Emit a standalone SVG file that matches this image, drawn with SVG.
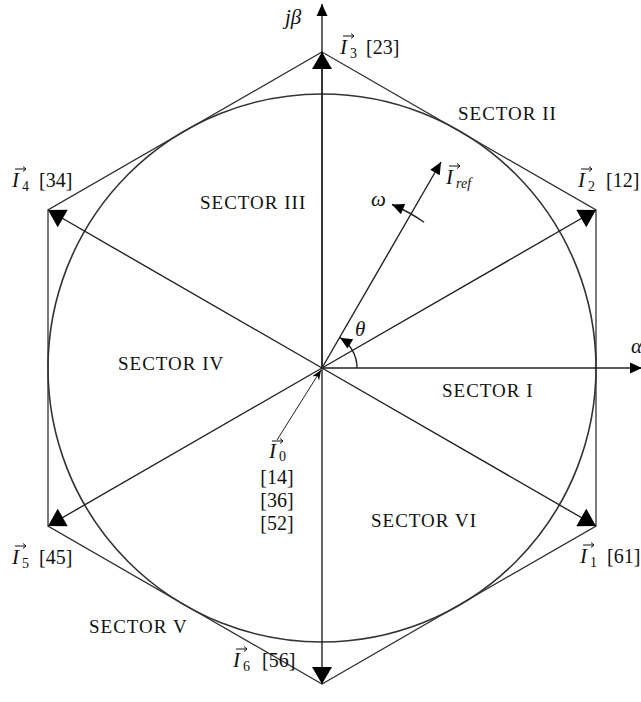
<svg xmlns="http://www.w3.org/2000/svg" width="641" height="702" viewBox="0 0 641 702">
<style>
.ln{stroke:#222;stroke-width:1.4;fill:none}
.hex{stroke:#333;stroke-width:1.3;fill:none}
.circ{stroke:#333;stroke-width:1.6;fill:none}
.sec{font-family:"Liberation Serif","DejaVu Serif",serif;font-size:19px;letter-spacing:1px;fill:#111}
.it{font-family:"Liberation Serif","DejaVu Serif",serif;font-style:italic;font-size:21px;fill:#111}
.rm{font-family:"Liberation Serif","DejaVu Serif",serif;font-size:20px;fill:#111}
.sub{font-family:"Liberation Serif","DejaVu Serif",serif;font-size:14px;fill:#111}
.subi{font-family:"Liberation Serif","DejaVu Serif",serif;font-style:italic;font-size:14px;fill:#111}
.acc{stroke:#111;stroke-width:1;fill:none}
</style>
<defs>
<marker id="big" markerUnits="userSpaceOnUse" markerWidth="20" markerHeight="22" refX="18" refY="11" orient="auto" viewBox="0 0 20 22">
<path d="M18,11 L1,1 L1,21 Z" fill="#000"/>
</marker>
<marker id="small" markerUnits="userSpaceOnUse" markerWidth="14" markerHeight="14" refX="13" refY="7" orient="auto" viewBox="0 0 14 14">
<path d="M13,7 L1,1.5 L1,12.5 Z" fill="#000"/>
</marker>
<marker id="stealth" markerUnits="userSpaceOnUse" markerWidth="12" markerHeight="10" refX="11" refY="5" orient="auto" viewBox="0 0 12 10">
<path d="M11,5 L1,1 L4,5 L1,9 Z" fill="#000"/>
</marker>
</defs>

<g id="hexagon">
<polygon class="hex" points="322,52 596,210 596,526 322,684 48,526 48,210"/>
</g>
<g id="circle">
<circle class="circ" cx="322" cy="368" r="274"/>
</g>

<g id="connectors">
<line class="ln" x1="322" y1="368" x2="322" y2="4" marker-end="url(#small)"/>
<line class="ln" x1="322" y1="368" x2="642" y2="368" marker-end="url(#small)"/>
<line class="ln" x1="322" y1="368" x2="322" y2="52" marker-end="url(#big)"/>
<line class="ln" x1="322" y1="368" x2="322" y2="684" marker-end="url(#big)"/>
<line class="ln" x1="322" y1="368" x2="596" y2="210" marker-end="url(#big)"/>
<line class="ln" x1="322" y1="368" x2="596" y2="526" marker-end="url(#big)"/>
<line class="ln" x1="322" y1="368" x2="48" y2="210" marker-end="url(#big)"/>
<line class="ln" x1="322" y1="368" x2="48" y2="526" marker-end="url(#big)"/>
<line class="ln" x1="322" y1="368" x2="441" y2="162" marker-end="url(#small)"/>
<path class="ln" d="M424.1,222.2 A178,178 0 0 0 392,204.5" marker-end="url(#small)"/>
<path class="ln" d="M357,368 A35,35 0 0 0 340,337.7" marker-end="url(#small)"/>
<line class="ln" style="stroke-width:1" x1="277" y1="440" x2="321" y2="370" marker-end="url(#stealth)"/>
</g>

<g id="axis-labels">
<text class="it" x="285" y="24">jβ</text>
<text class="it" x="631" y="353">α</text>
<text class="it" x="355" y="336">θ</text>
<text class="it" x="371" y="206">ω</text>
</g>

<g id="I3">
<path class="acc" d="M343,36 H354 M351,33.5 L354,36 L351,38.5"/>
<text class="it" x="340" y="54">I</text><text class="sub" x="350" y="58">3</text>
<text class="rm" x="366" y="54">[23]</text>
</g>
<g id="I4">
<path class="acc" d="M15,169 H26 M23,166.5 L26,169 L23,171.5"/>
<text class="it" x="12" y="187">I</text><text class="sub" x="22" y="191">4</text>
<text class="rm" x="39" y="187">[34]</text>
</g>
<g id="I2">
<path class="acc" d="M581,169 H592 M589,166.5 L592,169 L589,171.5"/>
<text class="it" x="578" y="187">I</text><text class="sub" x="588" y="191">2</text>
<text class="rm" x="606" y="187">[12]</text>
</g>
<g id="I5">
<path class="acc" d="M15,546 H26 M23,543.5 L26,546 L23,548.5"/>
<text class="it" x="12" y="564">I</text><text class="sub" x="22" y="568">5</text>
<text class="rm" x="39" y="564">[45]</text>
</g>
<g id="I1">
<path class="acc" d="M583,545 H594 M591,542.5 L594,545 L591,547.5"/>
<text class="it" x="580" y="563">I</text><text class="sub" x="590" y="567">1</text>
<text class="rm" x="607" y="563">[61]</text>
</g>
<g id="I6">
<path class="acc" d="M236,649 H247 M244,646.5 L247,649 L244,651.5"/>
<text class="it" x="233" y="667">I</text><text class="sub" x="243" y="671">6</text>
<text class="rm" x="262" y="667">[56]</text>
</g>
<g id="Iref">
<path class="acc" d="M449,166 H460 M457,163.5 L460,166 L457,168.5"/>
<text class="it" x="446" y="184">I</text><text class="subi" x="456" y="188">ref</text>
</g>
<g id="I0">
<path class="acc" d="M272,441 H283 M280,438.5 L283,441 L280,443.5"/>
<text class="it" x="269" y="458">I</text><text class="sub" x="279" y="461">0</text>
<text class="rm" x="277" y="484" text-anchor="middle">[14]</text>
<text class="rm" x="277" y="507" text-anchor="middle">[36]</text>
<text class="rm" x="277" y="530" text-anchor="middle">[52]</text>
</g>

<g id="sectors">
<text class="sec" x="442" y="397">SECTOR I</text>
<text class="sec" x="458" y="120">SECTOR II</text>
<text class="sec" x="200" y="209">SECTOR III</text>
<text class="sec" x="118" y="370">SECTOR IV</text>
<text class="sec" x="89" y="633">SECTOR V</text>
<text class="sec" x="371" y="527">SECTOR VI</text>
</g>
</svg>
